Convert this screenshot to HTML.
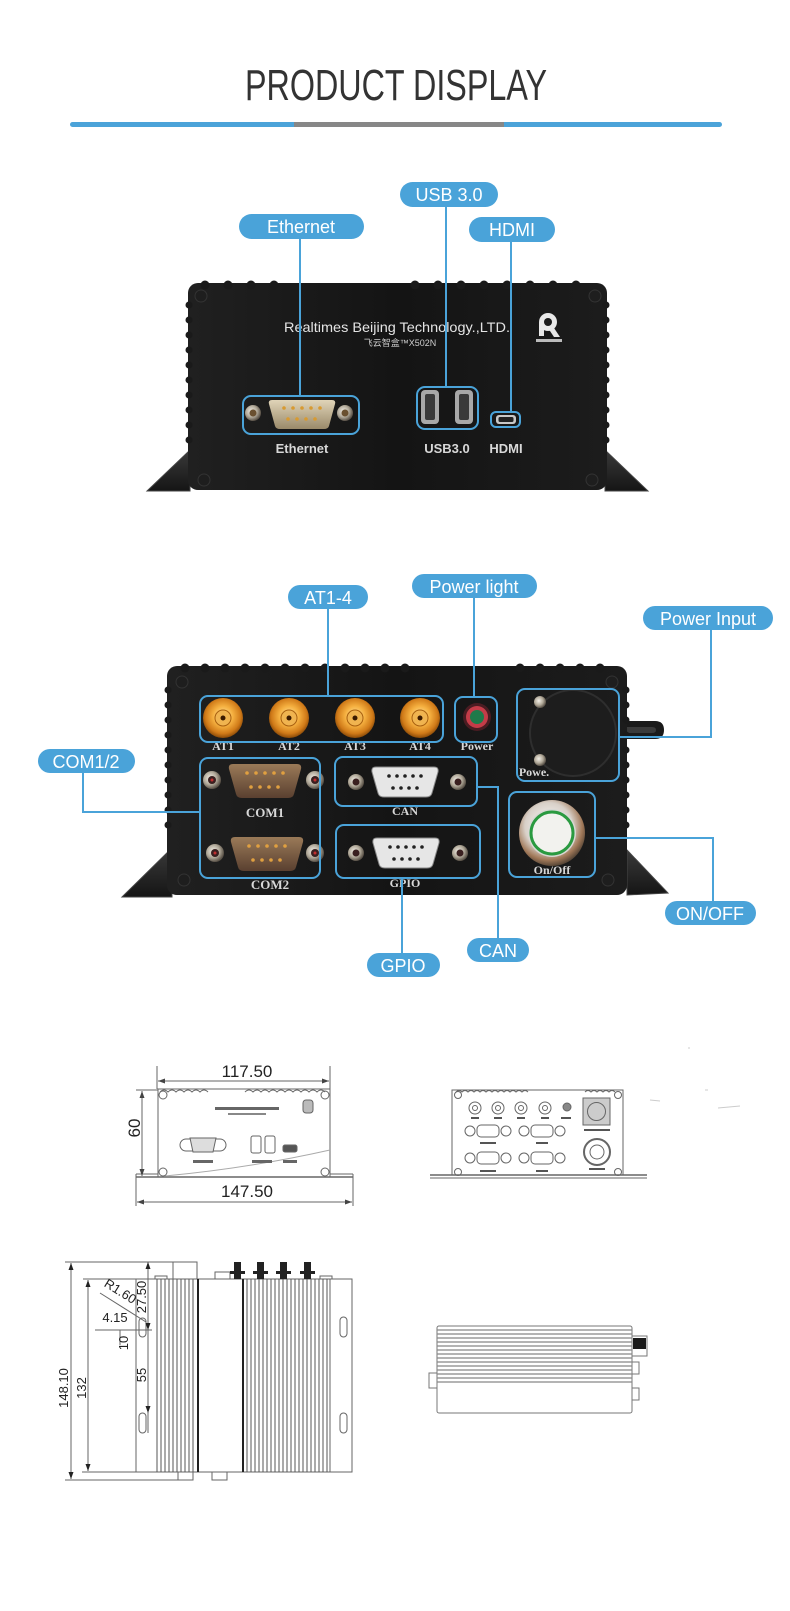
<!DOCTYPE html>
<html><head><meta charset="utf-8"><style>
html,body{margin:0;padding:0;background:#fff;}
svg{display:block;}
</style></head><body>
<svg width="790" height="1611" viewBox="0 0 790 1611" xmlns="http://www.w3.org/2000/svg" font-family="'Liberation Sans', sans-serif">
<defs>
  <radialGradient id="gold" cx="50%" cy="45%" r="55%">
    <stop offset="0" stop-color="#ffe6a0"/><stop offset="0.45" stop-color="#f5b040"/><stop offset="0.8" stop-color="#d07a18"/><stop offset="1" stop-color="#8a4a08"/>
  </radialGradient>
  <radialGradient id="silver" cx="40%" cy="40%" r="60%">
    <stop offset="0" stop-color="#f4f0e8"/><stop offset="0.6" stop-color="#b0a898"/><stop offset="1" stop-color="#5a5248"/>
  </radialGradient>
  <radialGradient id="ring" cx="45%" cy="40%" r="60%">
    <stop offset="0" stop-color="#ffffff"/><stop offset="0.6" stop-color="#d8d0c8"/><stop offset="0.85" stop-color="#a07858"/><stop offset="1" stop-color="#5a4838"/>
  </radialGradient>
  <linearGradient id="beige" x1="0" y1="0" x2="0" y2="1">
    <stop offset="0" stop-color="#e0d4b8"/><stop offset="1" stop-color="#9a8a6a"/>
  </linearGradient>
  <linearGradient id="bronze" x1="0" y1="0" x2="0" y2="1">
    <stop offset="0" stop-color="#9a7a58"/><stop offset="1" stop-color="#5a4030"/>
  </linearGradient>
  <linearGradient id="body" x1="0" y1="0" x2="1" y2="0">
    <stop offset="0" stop-color="#202020"/><stop offset="0.5" stop-color="#141414"/><stop offset="1" stop-color="#1c1c1c"/>
  </linearGradient>
  <linearGradient id="flange" x1="0" y1="0" x2="0" y2="1">
    <stop offset="0" stop-color="#3a3a3a"/><stop offset="1" stop-color="#151515"/>
  </linearGradient>
</defs>

<!-- Title -->
<text x="396" y="100" font-size="44" fill="#333" text-anchor="middle" textLength="302" lengthAdjust="spacingAndGlyphs">PRODUCT DISPLAY</text>
<rect x="70" y="122" width="652" height="5" rx="2.5" fill="#4ba3d9"/>
<rect x="294" y="122" width="210" height="5" fill="#878787"/>

<!-- ================= Device 1 (rear) ================= -->
<g>
  <polygon points="147,491 190,450 190,491" fill="url(#flange)" stroke="#444" stroke-width="1"/>
  <polygon points="605,450 648,491 605,491" fill="url(#flange)" stroke="#444" stroke-width="1"/>
  <rect x="188" y="283" width="419" height="207" rx="10" fill="url(#body)"/>
  <g fill="#1a1a1a">
    <circle cx="205" cy="285" r="4.5"/><circle cx="228" cy="285" r="4.5"/><circle cx="251" cy="285" r="4.5"/><circle cx="274" cy="285" r="4.5"/>
    <circle cx="415" cy="285" r="4.5"/><circle cx="438" cy="285" r="4.5"/><circle cx="461" cy="285" r="4.5"/><circle cx="484" cy="285" r="4.5"/><circle cx="507" cy="285" r="4.5"/><circle cx="530" cy="285" r="4.5"/><circle cx="553" cy="285" r="4.5"/><circle cx="576" cy="285" r="4.5"/>
    <circle cx="189" cy="305" r="3.5"/><circle cx="189" cy="320" r="3.5"/><circle cx="189" cy="335" r="3.5"/><circle cx="189" cy="350" r="3.5"/><circle cx="189" cy="365" r="3.5"/><circle cx="189" cy="380" r="3.5"/><circle cx="189" cy="395" r="3.5"/><circle cx="189" cy="410" r="3.5"/><circle cx="189" cy="425" r="3.5"/><circle cx="189" cy="440" r="3.5"/>
    <circle cx="606" cy="305" r="3.5"/><circle cx="606" cy="320" r="3.5"/><circle cx="606" cy="335" r="3.5"/><circle cx="606" cy="350" r="3.5"/><circle cx="606" cy="365" r="3.5"/><circle cx="606" cy="380" r="3.5"/><circle cx="606" cy="395" r="3.5"/><circle cx="606" cy="410" r="3.5"/><circle cx="606" cy="425" r="3.5"/><circle cx="606" cy="440" r="3.5"/>
  </g>
  <g fill="#1e1e1e" stroke="#333" stroke-width="1">
    <circle cx="201" cy="296" r="6"/><circle cx="595" cy="296" r="6"/><circle cx="204" cy="480" r="6"/><circle cx="592" cy="480" r="6"/>
  </g>
  <text x="397" y="332" font-size="14" fill="#e4e4e4" text-anchor="middle" textLength="226" lengthAdjust="spacingAndGlyphs">Realtimes Beijing Technology.,LTD.</text>
  <text x="400" y="346" font-size="9" fill="#cfcfcf" text-anchor="middle" font-family="'Liberation Sans','Noto Sans CJK SC',sans-serif">飞云智盒™X502N</text>
  <g>
    <circle cx="548" cy="322" r="9" fill="#e8e8e8"/>
    <circle cx="548" cy="322" r="4" fill="#1a1a1a"/>
    <rect x="539" y="322" width="5" height="14" fill="#e8e8e8"/>
    <polygon points="548,328 554,328 560,337 554,337" fill="#e8e8e8"/>
    <rect x="536" y="339" width="26" height="3" fill="#bbb"/>
  </g>
  <circle cx="253" cy="413" r="8" fill="url(#silver)"/><circle cx="253" cy="413" r="3.5" fill="#6a5030"/>
  <circle cx="345" cy="413" r="8" fill="url(#silver)"/><circle cx="345" cy="413" r="3.5" fill="#6a5030"/>
  <path d="M272,400 L332,400 Q336,400 335,404 L329,426 Q328,429 324,429 L280,429 Q276,429 275,426 L269,404 Q268,400 272,400 Z" fill="url(#beige)"/>
  <g fill="#d89a30">
    <circle cx="284" cy="408" r="1.8"/><circle cx="293" cy="408" r="1.8"/><circle cx="302" cy="408" r="1.8"/><circle cx="311" cy="408" r="1.8"/><circle cx="320" cy="408" r="1.8"/>
    <circle cx="288" cy="419" r="1.8"/><circle cx="297" cy="419" r="1.8"/><circle cx="306" cy="419" r="1.8"/><circle cx="315" cy="419" r="1.8"/>
  </g>
  <rect x="421" y="390" width="18" height="34" rx="4" fill="#a8a8a8"/><rect x="425" y="394" width="10" height="26" rx="2" fill="#3a3a3a"/>
  <rect x="455" y="390" width="18" height="34" rx="4" fill="#a8a8a8"/><rect x="459" y="394" width="10" height="26" rx="2" fill="#3a3a3a"/>
  <rect x="496" y="415" width="20" height="9" rx="3" fill="#c8c8c8"/><rect x="498.5" y="417" width="15" height="5" rx="1.5" fill="#222"/>
  <g font-size="13" font-weight="bold" fill="#d8d8d8" text-anchor="middle">
    <text x="302" y="453">Ethernet</text>
    <text x="447" y="453">USB3.0</text>
    <text x="506" y="453">HDMI</text>
  </g>
  <g fill="none" stroke="#4aa3d9" stroke-width="2">
    <rect x="243" y="396" width="116" height="38" rx="8"/>
    <rect x="417" y="387" width="61" height="42" rx="8"/>
    <rect x="491" y="412" width="29" height="15" rx="5"/>
    <line x1="300" y1="239" x2="300" y2="396"/>
    <line x1="446" y1="207" x2="446" y2="387"/>
    <line x1="511" y1="242" x2="511" y2="412"/>
  </g>
  <g fill="#4aa3d9">
    <rect x="239" y="214" width="125" height="25" rx="12.5"/>
    <rect x="400" y="182" width="98" height="25" rx="12.5"/>
    <rect x="469" y="217" width="86" height="25" rx="12.5"/>
  </g>
  <g font-size="18" fill="#fff" text-anchor="middle">
    <text x="301" y="233">Ethernet</text>
    <text x="449" y="201">USB 3.0</text>
    <text x="512" y="236">HDMI</text>
  </g>
</g>

<!-- ================= Device 2 (front) ================= -->
<g>
  <path d="M600,721 L655,721 Q664,721 664,730 Q664,739 655,739 L600,739 Z" fill="#1a1a1a"/>
  <path d="M610,727 L652,727 Q656,727 656,730 Q656,733 652,733 L610,733 Z" fill="#3a3a3a"/>
  <polygon points="122,897 172,848 172,897" fill="url(#flange)" stroke="#444" stroke-width="1"/>
  <polygon points="627,850 668,893 627,895" fill="url(#flange)" stroke="#444" stroke-width="1"/>
  <rect x="167" y="666" width="460" height="229" rx="10" fill="url(#body)"/>
  <g fill="#1a1a1a">
    <circle cx="185" cy="668" r="4.5"/><circle cx="205" cy="668" r="4.5"/><circle cx="225" cy="668" r="4.5"/><circle cx="245" cy="668" r="4.5"/><circle cx="265" cy="668" r="4.5"/><circle cx="285" cy="668" r="4.5"/><circle cx="305" cy="668" r="4.5"/><circle cx="325" cy="668" r="4.5"/><circle cx="345" cy="668" r="4.5"/><circle cx="365" cy="668" r="4.5"/><circle cx="385" cy="668" r="4.5"/><circle cx="405" cy="668" r="4.5"/>
    <circle cx="520" cy="668" r="4.5"/><circle cx="540" cy="668" r="4.5"/><circle cx="560" cy="668" r="4.5"/><circle cx="580" cy="668" r="4.5"/><circle cx="600" cy="668" r="4.5"/>
    <circle cx="168" cy="690" r="3.5"/><circle cx="168" cy="705" r="3.5"/><circle cx="168" cy="720" r="3.5"/><circle cx="168" cy="735" r="3.5"/><circle cx="168" cy="750" r="3.5"/><circle cx="168" cy="765" r="3.5"/><circle cx="168" cy="780" r="3.5"/><circle cx="168" cy="795" r="3.5"/><circle cx="168" cy="810" r="3.5"/><circle cx="168" cy="825" r="3.5"/>
    <circle cx="626" cy="690" r="3.5"/><circle cx="626" cy="705" r="3.5"/><circle cx="626" cy="720" r="3.5"/><circle cx="626" cy="735" r="3.5"/><circle cx="626" cy="750" r="3.5"/><circle cx="626" cy="765" r="3.5"/><circle cx="626" cy="780" r="3.5"/><circle cx="626" cy="795" r="3.5"/><circle cx="626" cy="810" r="3.5"/><circle cx="626" cy="825" r="3.5"/>
  </g>
  <g fill="#1e1e1e" stroke="#333" stroke-width="1">
    <circle cx="182" cy="682" r="6"/><circle cx="612" cy="682" r="6"/><circle cx="184" cy="880" r="6"/><circle cx="608" cy="880" r="6"/>
  </g>
  <g>
    <circle cx="223" cy="718" r="20" fill="url(#gold)"/><circle cx="223" cy="718" r="8" fill="#f0b450" stroke="#a86010"/><circle cx="223" cy="718" r="2.5" fill="#3a1a00"/>
    <circle cx="289" cy="718" r="20" fill="url(#gold)"/><circle cx="289" cy="718" r="8" fill="#f0b450" stroke="#a86010"/><circle cx="289" cy="718" r="2.5" fill="#3a1a00"/>
    <circle cx="355" cy="718" r="20" fill="url(#gold)"/><circle cx="355" cy="718" r="8" fill="#f0b450" stroke="#a86010"/><circle cx="355" cy="718" r="2.5" fill="#3a1a00"/>
    <circle cx="420" cy="718" r="20" fill="url(#gold)"/><circle cx="420" cy="718" r="8" fill="#f0b450" stroke="#a86010"/><circle cx="420" cy="718" r="2.5" fill="#3a1a00"/>
  </g>
  <circle cx="477" cy="717" r="14" fill="#4a1c22"/><circle cx="477" cy="717" r="11" fill="#c43c48"/><circle cx="477" cy="717" r="7" fill="#1e7a4a"/>
  <circle cx="573" cy="733" r="43" fill="#1d1d1d" stroke="#2e2e2e" stroke-width="2"/>
  <circle cx="540" cy="702" r="6" fill="url(#silver)"/><circle cx="540" cy="760" r="6" fill="url(#silver)"/>
  <g>
    <circle cx="212" cy="780" r="9" fill="url(#silver)"/><circle cx="212" cy="780" r="4" fill="#3a2020"/><circle cx="212" cy="780" r="1.5" fill="#c03030"/>
    <circle cx="315" cy="780" r="9" fill="url(#silver)"/><circle cx="315" cy="780" r="4" fill="#3a2020"/><circle cx="315" cy="780" r="1.5" fill="#c03030"/>
    <path d="M233,764 L297,764 Q302,764 301,769 L294,794 Q293,798 288,798 L242,798 Q237,798 236,794 L229,769 Q228,764 233,764 Z" fill="url(#bronze)"/>
    <g fill="#e0a040"><circle cx="247" cy="773" r="1.8"/><circle cx="256" cy="773" r="1.8"/><circle cx="265" cy="773" r="1.8"/><circle cx="274" cy="773" r="1.8"/><circle cx="283" cy="773" r="1.8"/><circle cx="251" cy="787" r="1.8"/><circle cx="260" cy="787" r="1.8"/><circle cx="269" cy="787" r="1.8"/><circle cx="278" cy="787" r="1.8"/></g>
    <circle cx="215" cy="853" r="9" fill="url(#silver)"/><circle cx="215" cy="853" r="4" fill="#3a2020"/><circle cx="215" cy="853" r="1.5" fill="#c03030"/>
    <circle cx="315" cy="853" r="9" fill="url(#silver)"/><circle cx="315" cy="853" r="4" fill="#3a2020"/><circle cx="315" cy="853" r="1.5" fill="#c03030"/>
    <path d="M235,837 L299,837 Q304,837 303,842 L296,867 Q295,871 290,871 L244,871 Q239,871 238,867 L231,842 Q230,837 235,837 Z" fill="url(#bronze)"/>
    <g fill="#e0a040"><circle cx="249" cy="846" r="1.8"/><circle cx="258" cy="846" r="1.8"/><circle cx="267" cy="846" r="1.8"/><circle cx="276" cy="846" r="1.8"/><circle cx="285" cy="846" r="1.8"/><circle cx="253" cy="860" r="1.8"/><circle cx="262" cy="860" r="1.8"/><circle cx="271" cy="860" r="1.8"/><circle cx="280" cy="860" r="1.8"/></g>
  </g>
  <g>
    <circle cx="356" cy="782" r="8" fill="url(#silver)"/><circle cx="356" cy="782" r="3.5" fill="#3a2020"/>
    <circle cx="458" cy="782" r="8" fill="url(#silver)"/><circle cx="458" cy="782" r="3.5" fill="#3a2020"/>
    <path d="M376,767 L434,767 Q439,767 438,772 L432,793 Q431,797 426,797 L384,797 Q379,797 378,793 L372,772 Q371,767 376,767 Z" fill="#e6e6e6" stroke="#888"/>
    <g fill="#222"><circle cx="389" cy="776" r="1.8"/><circle cx="397" cy="776" r="1.8"/><circle cx="405" cy="776" r="1.8"/><circle cx="413" cy="776" r="1.8"/><circle cx="421" cy="776" r="1.8"/><circle cx="393" cy="788" r="1.8"/><circle cx="401" cy="788" r="1.8"/><circle cx="409" cy="788" r="1.8"/><circle cx="417" cy="788" r="1.8"/></g>
    <circle cx="356" cy="853" r="8" fill="url(#silver)"/><circle cx="356" cy="853" r="3.5" fill="#3a2020"/>
    <circle cx="460" cy="853" r="8" fill="url(#silver)"/><circle cx="460" cy="853" r="3.5" fill="#3a2020"/>
    <path d="M377,838 L435,838 Q440,838 439,843 L433,864 Q432,868 427,868 L385,868 Q380,868 379,864 L373,843 Q372,838 377,838 Z" fill="#e6e6e6" stroke="#888"/>
    <g fill="#222"><circle cx="390" cy="847" r="1.8"/><circle cx="398" cy="847" r="1.8"/><circle cx="406" cy="847" r="1.8"/><circle cx="414" cy="847" r="1.8"/><circle cx="422" cy="847" r="1.8"/><circle cx="394" cy="859" r="1.8"/><circle cx="402" cy="859" r="1.8"/><circle cx="410" cy="859" r="1.8"/><circle cx="418" cy="859" r="1.8"/></g>
  </g>
  <circle cx="552" cy="833" r="33" fill="url(#ring)"/>
  <circle cx="552" cy="833" r="24" fill="#d8d8d4"/>
  <circle cx="552" cy="833" r="21" fill="#f2f2ee" stroke="#2a9a40" stroke-width="3"/>
  <g font-family="'Liberation Serif', serif" font-weight="bold" fill="#d8d8d8" text-anchor="middle" font-size="12">
    <text x="223" y="750">AT1</text><text x="289" y="750">AT2</text><text x="355" y="750">AT3</text><text x="420" y="750">AT4</text>
    <text x="477" y="750">Power</text>
    <text x="534" y="776">Powe.</text>
    <text x="265" y="817" font-size="13">COM1</text>
    <text x="270" y="889" font-size="13">COM2</text>
    <text x="405" y="815">CAN</text>
    <text x="405" y="887">GPIO</text>
    <text x="552" y="874">On/Off</text>
  </g>
  <g fill="none" stroke="#4aa3d9" stroke-width="2">
    <rect x="200" y="696" width="243" height="46" rx="8"/>
    <rect x="455" y="697" width="42" height="45" rx="8"/>
    <rect x="517" y="689" width="102" height="92" rx="8"/>
    <rect x="200" y="758" width="120" height="120" rx="8"/>
    <rect x="335" y="757" width="142" height="49" rx="8"/>
    <rect x="336" y="825" width="144" height="53" rx="8"/>
    <rect x="509" y="792" width="86" height="85" rx="8"/>
    <line x1="328" y1="609" x2="328" y2="696"/>
    <line x1="474" y1="598" x2="474" y2="697"/>
    <polyline points="711,629 711,737 619,737"/>
    <polyline points="83,773 83,812 200,812"/>
    <polyline points="595,838 713,838 713,901"/>
    <polyline points="477,787 498,787 498,938"/>
    <line x1="402" y1="878" x2="402" y2="953"/>
  </g>
  <g fill="#4aa3d9">
    <rect x="288" y="585" width="80" height="24" rx="12"/>
    <rect x="412" y="574" width="125" height="24" rx="12"/>
    <rect x="643" y="606" width="130" height="24" rx="12"/>
    <rect x="38" y="749" width="97" height="24" rx="12"/>
    <rect x="665" y="901" width="91" height="24" rx="12"/>
    <rect x="467" y="938" width="62" height="24" rx="12"/>
    <rect x="367" y="953" width="73" height="24" rx="12"/>
  </g>
  <g font-size="18" fill="#fff" text-anchor="middle">
    <text x="328" y="604">AT1-4</text>
    <text x="474" y="593">Power light</text>
    <text x="708" y="625">Power Input</text>
    <text x="86" y="768">COM1/2</text>
    <text x="710" y="920">ON/OFF</text>
    <text x="498" y="957">CAN</text>
    <text x="403" y="972">GPIO</text>
  </g>
</g>

<!-- ================= Drawing 1 ================= -->
<g stroke="#666" stroke-width="1" fill="none">
  <rect x="158" y="1089" width="172" height="88"/>
  <path d="M160,1092 q4,-4 8,0 q4,-4 8,0 q4,-4 8,0 q4,-4 8,0 q4,-4 8,0 q4,-4 8,0 M245,1092 q4,-4 8,0 q4,-4 8,0 q4,-4 8,0 q4,-4 8,0 q4,-4 8,0 q4,-4 8,0 q4,-4 8,0 q4,-4 8,0 q4,-4 8,0 q4,-4 8,0"/>
  <line x1="157" y1="1066" x2="157" y2="1089"/><line x1="330" y1="1066" x2="330" y2="1089"/>
  <line x1="158" y1="1081" x2="329" y2="1081"/>
  <line x1="136" y1="1090" x2="158" y2="1090"/>
  <line x1="142" y1="1091" x2="142" y2="1176"/>
  <line x1="136" y1="1177" x2="353" y2="1177" stroke-width="1.5"/>
  <line x1="136" y1="1174" x2="158" y2="1174"/><line x1="330" y1="1174" x2="353" y2="1174"/>
  <line x1="136" y1="1174" x2="136" y2="1206"/><line x1="353" y1="1174" x2="353" y2="1206"/>
  <line x1="137" y1="1202" x2="352" y2="1202"/>
  <path d="M165,1176 Q250,1168 330,1150" stroke="#aaa"/>
  <circle cx="163" cy="1095" r="4"/><circle cx="325" cy="1095" r="4"/><circle cx="163" cy="1172" r="4"/><circle cx="325" cy="1172" r="4"/>
  <rect x="180" y="1139" width="46" height="12" rx="6"/>
  <path d="M190,1138 h26 l-3,14 h-20 z" fill="#ddd"/>
  <rect x="251" y="1136" width="10" height="17" rx="2"/><rect x="265" y="1136" width="10" height="17" rx="2"/>
  <rect x="283" y="1145" width="14" height="7" rx="2" fill="#555"/>
  <rect x="303" y="1100" width="10" height="13" rx="3" fill="#bbb"/>
</g>
<g fill="#444">
  <polygon points="158,1081 165,1078.5 165,1083.5"/><polygon points="329,1081 322,1078.5 322,1083.5"/>
  <polygon points="142,1091 139.5,1098 144.5,1098"/><polygon points="142,1176 139.5,1169 144.5,1169"/>
  <polygon points="137,1202 144,1199.5 144,1204.5"/><polygon points="352,1202 345,1199.5 345,1204.5"/>
  <rect x="215" y="1107" width="64" height="3" fill="#666"/><rect x="228" y="1113" width="38" height="2" fill="#888"/>
  <rect x="193" y="1160" width="20" height="3" fill="#666"/><rect x="252" y="1160" width="20" height="3" fill="#666"/><rect x="283" y="1160" width="14" height="3" fill="#666"/>
</g>
<g font-size="17" fill="#222" text-anchor="middle">
  <text x="247" y="1077">117.50</text>
  <text x="247" y="1197">147.50</text>
  <text transform="translate(140,1128) rotate(-90)">60</text>
</g>

<!-- ================= Drawing 2 ================= -->
<g stroke="#666" stroke-width="1" fill="none">
  <rect x="452" y="1090" width="171" height="85"/>
  <line x1="430" y1="1175" x2="647" y2="1175" stroke-width="1.5"/><line x1="430" y1="1178" x2="647" y2="1178"/>
  <path d="M456,1092 q3,-3 6,0 q3,-3 6,0 q3,-3 6,0 q3,-3 6,0 q3,-3 6,0 q3,-3 6,0 q3,-3 6,0 q3,-3 6,0 q3,-3 6,0 q3,-3 6,0 q3,-3 6,0 q3,-3 6,0 M585,1092 q3,-3 6,0 q3,-3 6,0 q3,-3 6,0 q3,-3 6,0 q3,-3 6,0"/>
  <circle cx="458" cy="1095" r="3.5"/><circle cx="618" cy="1095" r="3.5"/><circle cx="458" cy="1172" r="3.5"/><circle cx="618" cy="1172" r="3.5"/>
  <circle cx="475" cy="1108" r="6"/><circle cx="498" cy="1108" r="6"/><circle cx="521" cy="1108" r="6"/><circle cx="545" cy="1108" r="6"/>
  <circle cx="475" cy="1108" r="2.5"/><circle cx="498" cy="1108" r="2.5"/><circle cx="521" cy="1108" r="2.5"/><circle cx="545" cy="1108" r="2.5"/>
  <circle cx="567" cy="1107" r="4" fill="#888"/>
  <rect x="583" y="1098" width="27" height="27" fill="#ccc"/><circle cx="596.5" cy="1111.5" r="9"/>
  <circle cx="597" cy="1152" r="13" stroke-width="2"/><circle cx="597" cy="1152" r="7"/>
  <circle cx="470" cy="1131" r="5"/><rect x="477" y="1125" width="22" height="12" rx="4"/><circle cx="506" cy="1131" r="5"/>
  <circle cx="524" cy="1131" r="5"/><rect x="531" y="1125" width="22" height="12" rx="4"/><circle cx="560" cy="1131" r="5"/>
  <circle cx="470" cy="1158" r="5"/><rect x="477" y="1152" width="22" height="12" rx="4"/><circle cx="506" cy="1158" r="5"/>
  <circle cx="524" cy="1158" r="5"/><rect x="531" y="1152" width="22" height="12" rx="4"/><circle cx="560" cy="1158" r="5"/>
</g>
<g fill="#555">
  <rect x="471" y="1117" width="8" height="2"/><rect x="494" y="1117" width="8" height="2"/><rect x="517" y="1117" width="8" height="2"/><rect x="541" y="1117" width="8" height="2"/><rect x="561" y="1117" width="10" height="2"/>
  <rect x="584" y="1129" width="26" height="2"/>
  <rect x="480" y="1142" width="16" height="2"/><rect x="536" y="1142" width="12" height="2"/>
  <rect x="480" y="1170" width="16" height="2"/><rect x="536" y="1170" width="12" height="2"/>
  <rect x="589" y="1168" width="16" height="2"/>
</g>
<g stroke="#ccc" stroke-width="1">
  <line x1="688" y1="1048" x2="690" y2="1048"/><line x1="705" y1="1090" x2="708" y2="1090"/><line x1="718" y1="1108" x2="740" y2="1106"/><line x1="650" y1="1100" x2="660" y2="1101"/>
</g>

<!-- ================= Drawing 3 (top view) ================= -->
<g stroke="#666" stroke-width="1" fill="none">
  <rect x="136" y="1279" width="216" height="193"/>
  <line x1="65" y1="1262" x2="197" y2="1262"/>
  <line x1="83" y1="1279" x2="136" y2="1279"/>
  <line x1="65" y1="1480" x2="193" y2="1480"/>
  <line x1="82" y1="1472" x2="136" y2="1472"/>
  <line x1="71" y1="1263" x2="71" y2="1479"/>
  <line x1="88" y1="1280" x2="88" y2="1471"/>
  <line x1="148" y1="1262" x2="148" y2="1433"/>
  <line x1="95" y1="1330" x2="152" y2="1330"/>
  <line x1="120" y1="1330" x2="120" y2="1345"/>
  <line x1="100" y1="1293" x2="146" y2="1322"/>
  <rect x="173" y="1262" width="24" height="17"/>
  <rect x="139" y="1318" width="7" height="19" rx="3.5"/><rect x="139" y="1413" width="7" height="20" rx="3.5"/>
  <rect x="340" y="1317" width="7" height="20" rx="3.5"/><rect x="340" y="1413" width="7" height="20" rx="3.5"/>
  <rect x="178" y="1472" width="15" height="8"/><rect x="212" y="1472" width="15" height="8"/>
  <rect x="155" y="1276" width="12" height="3"/><rect x="320" y="1276" width="12" height="3"/>
  <rect x="215" y="1272" width="15" height="7"/>
  <line x1="330" y1="1279" x2="330" y2="1472"/>
</g>
<g stroke="#555" stroke-width="1">
  <line x1="157" y1="1279" x2="157" y2="1472"/><line x1="161" y1="1279" x2="161" y2="1472"/><line x1="165" y1="1279" x2="165" y2="1472"/><line x1="169" y1="1279" x2="169" y2="1472"/><line x1="173" y1="1279" x2="173" y2="1472"/><line x1="177" y1="1279" x2="177" y2="1472"/><line x1="181" y1="1279" x2="181" y2="1472"/><line x1="185" y1="1279" x2="185" y2="1472"/><line x1="189" y1="1279" x2="189" y2="1472"/><line x1="193" y1="1279" x2="193" y2="1472"/>
  <line x1="198" y1="1279" x2="198" y2="1472" stroke-width="2" stroke="#222"/>
  <line x1="243" y1="1279" x2="243" y2="1472" stroke-width="2" stroke="#222"/>
  <line x1="247" y1="1279" x2="247" y2="1472"/><line x1="251" y1="1279" x2="251" y2="1472"/><line x1="255" y1="1279" x2="255" y2="1472"/><line x1="259" y1="1279" x2="259" y2="1472"/><line x1="263" y1="1279" x2="263" y2="1472"/><line x1="267" y1="1279" x2="267" y2="1472"/><line x1="271" y1="1279" x2="271" y2="1472"/><line x1="275" y1="1279" x2="275" y2="1472"/><line x1="279" y1="1279" x2="279" y2="1472"/><line x1="283" y1="1279" x2="283" y2="1472"/><line x1="287" y1="1279" x2="287" y2="1472"/><line x1="291" y1="1279" x2="291" y2="1472"/><line x1="295" y1="1279" x2="295" y2="1472"/><line x1="299" y1="1279" x2="299" y2="1472"/><line x1="303" y1="1279" x2="303" y2="1472"/><line x1="307" y1="1279" x2="307" y2="1472"/><line x1="311" y1="1279" x2="311" y2="1472"/><line x1="315" y1="1279" x2="315" y2="1472"/><line x1="319" y1="1279" x2="319" y2="1472"/><line x1="323" y1="1279" x2="323" y2="1472"/><line x1="327" y1="1279" x2="327" y2="1472"/>
</g>
<g fill="#222">
  <rect x="234" y="1262" width="7" height="17"/><rect x="257" y="1262" width="7" height="17"/><rect x="280" y="1262" width="7" height="17"/><rect x="304" y="1262" width="7" height="17"/>
  <rect x="230" y="1271" width="15" height="3"/><rect x="253" y="1271" width="15" height="3"/><rect x="276" y="1271" width="15" height="3"/><rect x="300" y="1271" width="15" height="3"/>
  <polygon points="71,1263 68.5,1270 73.5,1270"/><polygon points="71,1479 68.5,1472 73.5,1472"/>
  <polygon points="88,1280 85.5,1287 90.5,1287"/><polygon points="88,1471 85.5,1464 90.5,1464"/>
  <polygon points="148,1262 145.5,1269 150.5,1269"/><polygon points="148,1330 145.5,1323 150.5,1323"/>
  <polygon points="148,1413 145.5,1406 150.5,1406"/>
</g>
<g font-size="13" fill="#222" text-anchor="middle">
  <text transform="translate(68,1388) rotate(-90)">148.10</text>
  <text transform="translate(86,1388) rotate(-90)">132</text>
  <text transform="translate(146,1297) rotate(-90)">27.50</text>
  <text transform="translate(146,1375) rotate(-90)">55</text>
  <text transform="translate(128,1343) rotate(-90)">10</text>
  <text x="115" y="1322">4.15</text>
  <text transform="translate(118,1295) rotate(32)">R1.60</text>
</g>

<!-- ================= Drawing 4 (side) ================= -->
<g stroke="#777" stroke-width="1" fill="none">
  <rect x="437" y="1326" width="195" height="87" rx="2"/>
  <rect x="429" y="1373" width="8" height="15"/>
  <rect x="632" y="1336" width="15" height="20"/>
  <rect x="632" y="1362" width="7" height="12"/><rect x="632" y="1388" width="7" height="12"/>
</g>
<rect x="633" y="1338" width="13" height="11" fill="#1a1a1a"/>
<g stroke="#888" stroke-width="1.2">
  <line x1="437" y1="1330" x2="632" y2="1330"/><line x1="437" y1="1334" x2="632" y2="1334"/><line x1="437" y1="1338" x2="632" y2="1338"/><line x1="437" y1="1342" x2="632" y2="1342"/><line x1="437" y1="1346" x2="632" y2="1346"/><line x1="437" y1="1350" x2="632" y2="1350"/><line x1="437" y1="1354" x2="632" y2="1354"/><line x1="437" y1="1358" x2="632" y2="1358"/><line x1="437" y1="1362" x2="632" y2="1362"/><line x1="437" y1="1366" x2="632" y2="1366"/><line x1="437" y1="1370" x2="632" y2="1370"/><line x1="437" y1="1374" x2="632" y2="1374"/><line x1="437" y1="1378" x2="632" y2="1378"/><line x1="437" y1="1382" x2="632" y2="1382"/>
</g>
</svg>
</body></html>
